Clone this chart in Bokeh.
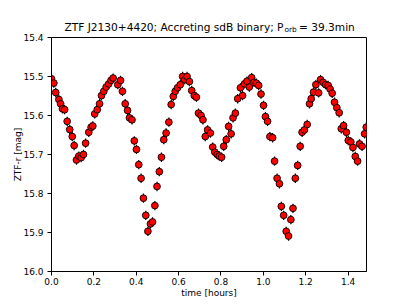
from bokeh.plotting import figure
from bokeh.layouts import column
from bokeh.models import Range1d, Label, FixedTicker, NumeralTickFormatter, ColumnDataSource
from bokeh.embed import file_html
from bokeh.resources import INLINE

# ---- data ----
time_hours = [0.000, 0.011, 0.020, 0.035, 0.043, 0.052, 0.062, 0.074, 0.086, 0.098,
              0.107, 0.118, 0.129, 0.140, 0.151, 0.161, 0.176, 0.187, 0.195, 0.204,
              0.216, 0.227, 0.236, 0.247, 0.258, 0.270, 0.281, 0.291, 0.313, 0.326,
              0.335, 0.348, 0.359, 0.368, 0.380, 0.391, 0.401, 0.412, 0.423, 0.434,
              0.445, 0.455, 0.467, 0.477, 0.488, 0.498, 0.509, 0.519, 0.530, 0.541,
              0.554, 0.565, 0.575, 0.584, 0.595, 0.608, 0.619, 0.629, 0.640, 0.651,
              0.662, 0.674, 0.684, 0.694, 0.706, 0.715, 0.726, 0.737, 0.750, 0.761,
              0.771, 0.782, 0.792, 0.803, 0.813, 0.825, 0.836, 0.848, 0.857, 0.868,
              0.879, 0.892, 0.902, 0.911, 0.923, 0.934, 0.945, 0.956, 0.967, 0.978,
              0.989, 1.001, 1.010, 1.020, 1.031, 1.044, 1.053, 1.065, 1.076, 1.085,
              1.096, 1.108, 1.119, 1.130, 1.140, 1.151, 1.162, 1.174, 1.183, 1.194,
              1.207, 1.218, 1.226, 1.237, 1.248, 1.261, 1.270, 1.282, 1.294, 1.306,
              1.315, 1.325, 1.336, 1.347, 1.358, 1.368, 1.379, 1.392, 1.401, 1.413,
              1.423, 1.434, 1.445, 1.454, 1.466, 1.478, 1.486]
mag_r = [15.506, 15.517, 15.541, 15.559, 15.570, 15.583, 15.585, 15.615, 15.636, 15.654,
         15.677, 15.714, 15.704, 15.708, 15.700, 15.671, 15.643, 15.630, 15.627, 15.596,
         15.585, 15.570, 15.549, 15.538, 15.527, 15.519, 15.510, 15.504, 15.521, 15.510,
         15.538, 15.570, 15.587, 15.606, 15.611, 15.665, 15.687, 15.726, 15.761, 15.812,
         15.856, 15.897, 15.878, 15.873, 15.831, 15.782, 15.744, 15.707, 15.662, 15.645,
         15.617, 15.572, 15.551, 15.538, 15.529, 15.521, 15.500, 15.508, 15.500, 15.513,
         15.536, 15.549, 15.553, 15.594, 15.600, 15.611, 15.654, 15.637, 15.645, 15.681,
         15.694, 15.700, 15.704, 15.707, 15.679, 15.662, 15.628, 15.647, 15.606, 15.594,
         15.557, 15.529, 15.549, 15.519, 15.512, 15.527, 15.503, 15.515, 15.517, 15.523,
         15.545, 15.574, 15.603, 15.615, 15.654, 15.657, 15.717, 15.761, 15.775, 15.833,
         15.856, 15.897, 15.909, 15.867, 15.838, 15.761, 15.728, 15.679, 15.643, 15.637,
         15.623, 15.570, 15.557, 15.540, 15.521, 15.542, 15.508, 15.515, 15.521, 15.523,
         15.532, 15.543, 15.566, 15.580, 15.593, 15.634, 15.626, 15.643, 15.664, 15.668,
         15.682, 15.705, 15.717, 15.673, 15.679, 15.647, 15.630]
mag_err = [0.012] * len(mag_r)

x_ticks = [0.0, 0.2, 0.4, 0.6, 0.8, 1.0, 1.2, 1.4]
y_ticks = [15.4, 15.5, 15.6, 15.7, 15.8, 15.9, 16.0]
x_limits = (0.0, 1.487)
y_limits = (16.0, 15.4)

title_main = "ZTF J2130+4420; Accreting sdB binary; P"
title_sub = "orb"
title_tail = "= 39.3min"

FONT = "DejaVu Sans"
W = 407
STRIP_H = 33
LEFT, RIGHT = 51, 41          # frame borders shared by both panels

# ---- title strip: same horizontal borders as the main panel, x range in pixels ----
t = figure(width=W, height=STRIP_H, output_backend="svg", toolbar_location=None,
           x_range=Range1d(LEFT, W - RIGHT), y_range=Range1d(STRIP_H, 0),
           x_axis_location=None, y_axis_location=None,
           min_border_left=LEFT, min_border_right=RIGHT, min_border_top=0, min_border_bottom=0,
           title=None)
t.outline_line_color = None
t.xgrid.visible = False
t.ygrid.visible = False
t.background_fill_color = "white"
t.border_fill_color = "white"
t.add_layout(Label(x=283, y=26, text=title_main, text_align="right", text_baseline="middle",
                   text_font=FONT, text_font_size="10.6px", text_color="black"))
t.add_layout(Label(x=284, y=29, text=title_sub, text_align="left", text_baseline="middle",
                   text_font=FONT, text_font_size="7.4px", text_color="black"))
t.add_layout(Label(x=298.5, y=26, text=title_tail, text_align="left", text_baseline="middle",
                   text_font=FONT, text_font_size="10.6px", text_color="black"))

# ---- main light-curve panel ----
src = ColumnDataSource(dict(
    t=time_hours, m=mag_r,
    lo=[m - e for m, e in zip(mag_r, mag_err)],
    hi=[m + e for m, e in zip(mag_r, mag_err)],
))

p = figure(width=W, height=305 - STRIP_H, output_backend="svg", toolbar_location=None,
           x_range=Range1d(*x_limits), y_range=Range1d(*y_limits),
           min_border_left=LEFT, min_border_right=RIGHT, min_border_top=4, min_border_bottom=34,
           title=None)
p.background_fill_color = "white"
p.border_fill_color = "white"
p.outline_line_color = "black"
p.outline_line_width = 1
p.xgrid.visible = False
p.ygrid.visible = False

for ax in (p.xaxis[0], p.yaxis[0]):
    ax.axis_line_color = "black"
    ax.major_tick_line_color = "black"
    ax.major_tick_out = 4
    ax.major_tick_in = 0
    ax.minor_tick_line_color = None
    ax.major_label_text_font = FONT
    ax.major_label_text_font_size = "9px"
    ax.major_label_text_color = "black"
    ax.axis_label_text_font = FONT
    ax.axis_label_text_font_size = "9px"
    ax.axis_label_text_font_style = "normal"
    ax.axis_label_text_color = "black"

p.xaxis.major_label_standoff = 2
p.xaxis.axis_label_standoff = 0
p.yaxis.major_label_standoff = 4
p.yaxis.axis_label_standoff = -3

p.xaxis.ticker = FixedTicker(ticks=x_ticks)
p.yaxis.ticker = FixedTicker(ticks=y_ticks)
p.xaxis.formatter = NumeralTickFormatter(format="0.0")
p.yaxis.formatter = NumeralTickFormatter(format="0.0")
p.xaxis.axis_label = "time [hours]"
p.yaxis.axis_label = "ZTF-r [mag]"

p.segment(x0="t", y0="lo", x1="t", y1="hi", source=src, line_color="black", line_width=1.2)
p.scatter(x="t", y="m", source=src, size=6.8, fill_color="red", line_color="black", line_width=0.9)

layout = column(t, p, spacing=0)
open("out.html", "w").write(file_html(layout, INLINE))
